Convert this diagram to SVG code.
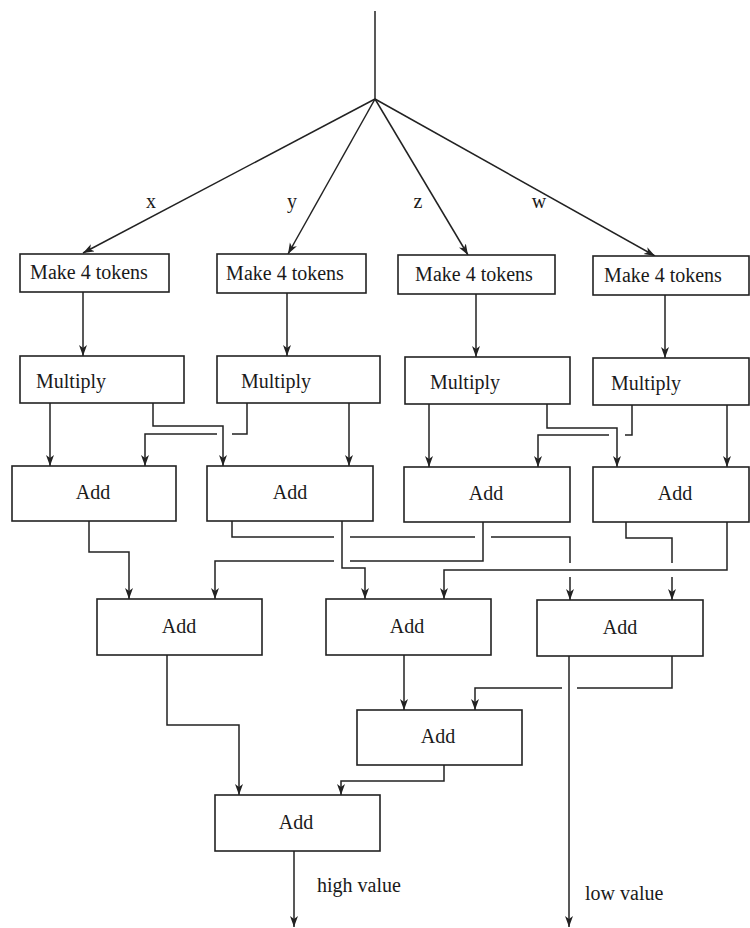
<svg xmlns="http://www.w3.org/2000/svg" width="750" height="928" viewBox="0 0 750 928">
<style>
.box{fill:#fff;stroke:#222;stroke-width:1.6}
.t{font-family:"Liberation Serif","Times New Roman",serif;font-size:20px;fill:#1a1a1a;text-anchor:middle}
.lbl{font-family:"Liberation Serif","Times New Roman",serif;font-size:20px;fill:#1a1a1a}
.c{fill:none;stroke:#222;stroke-width:1.5}
.a{marker-end:url(#arr)}
</style>
<defs>
<marker id="arr" markerUnits="userSpaceOnUse" markerWidth="12" markerHeight="10" refX="11" refY="4" orient="auto">
<path d="M0,0 L11,4 L0,8 L3,4 z" fill="#222"/>
</marker>
</defs>
<rect width="750" height="928" fill="#fff"/>

<g id="connectors">
<line class="c" x1="375" y1="11" x2="375" y2="99"/>
<line class="c a" x1="375" y1="99" x2="83" y2="253"/>
<line class="c a" x1="375" y1="99" x2="288" y2="254"/>
<line class="c a" x1="375" y1="99" x2="468" y2="255"/>
<line class="c a" x1="375" y1="99" x2="655" y2="256"/>

<line class="c a" x1="83" y1="292" x2="83" y2="356"/>
<line class="c a" x1="287" y1="293" x2="287" y2="356"/>
<line class="c a" x1="476" y1="294" x2="476" y2="357"/>
<line class="c a" x1="665" y1="295" x2="665" y2="358"/>

<line class="c a" x1="50" y1="403" x2="50" y2="466"/>
<polyline class="c a" points="153,403 153,426 223,426 223,466"/>
<polyline class="c" points="247,403 247,434 232,434"/>
<polyline class="c a" points="217,434 145,434 145,466"/>
<line class="c a" x1="349" y1="403" x2="349" y2="466"/>
<line class="c a" x1="429" y1="404" x2="429" y2="467"/>
<polyline class="c a" points="547,404 547,428 617,428 617,467"/>
<polyline class="c" points="632,405 632,435 625,435"/>
<polyline class="c a" points="609,435 538,435 538,467"/>
<line class="c a" x1="727" y1="405" x2="727" y2="467"/>

<polyline class="c a" points="89,521 89,552 129,552 129,599"/>
<polyline class="c" points="232,521 232,537 334,537"/>
<line class="c" x1="350" y1="537" x2="475" y2="537"/>
<polyline class="c" points="491,537 570,537 570,563"/>
<line class="c a" x1="570" y1="577" x2="570" y2="600"/>
<polyline class="c a" points="342,521 342,568 365,568 365,599"/>
<polyline class="c" points="483,522 483,561 350,561"/>
<polyline class="c a" points="334,561 215,561 215,599"/>
<polyline class="c" points="626,522 626,538 672,538 672,563"/>
<line class="c a" x1="672" y1="577" x2="672" y2="600"/>
<polyline class="c a" points="727,522 727,570 444,570 444,599"/>

<line class="c a" x1="404" y1="655" x2="404" y2="710"/>
<line class="c a" x1="569" y1="656" x2="569" y2="927"/>
<polyline class="c" points="672,656 672,688 577,688"/>
<polyline class="c a" points="562,688 475,688 475,710"/>
<polyline class="c a" points="167,655 167,725 239,725 239,795"/>
<polyline class="c a" points="444,765 444,781 341,781 341,795"/>
<line class="c a" x1="294" y1="851" x2="294" y2="927"/>
</g>

<g id="labels">
<text class="t" x="151" y="208">x</text>
<text class="t" x="292" y="208">y</text>
<text class="t" x="418" y="208">z</text>
<text class="t" x="539" y="208">w</text>
<text class="lbl" x="317" y="892">high value</text>
<text class="lbl" x="585" y="900">low value</text>
</g>

<g id="make1"><rect class="box" x="20" y="254" width="149" height="38"/><text class="t" x="89" y="279">Make 4 tokens</text></g>
<g id="make2"><rect class="box" x="217" y="254" width="149" height="39"/><text class="t" x="285" y="280">Make 4 tokens</text></g>
<g id="make3"><rect class="box" x="398" y="255" width="157" height="39"/><text class="t" x="474" y="281">Make 4 tokens</text></g>
<g id="make4"><rect class="box" x="593" y="256" width="156" height="39"/><text class="t" x="663" y="282">Make 4 tokens</text></g>

<g id="mul1"><rect class="box" x="20" y="356" width="164" height="47"/><text class="t" x="71" y="388">Multiply</text></g>
<g id="mul2"><rect class="box" x="217" y="356" width="163" height="47"/><text class="t" x="276" y="388">Multiply</text></g>
<g id="mul3"><rect class="box" x="405" y="357" width="165" height="47"/><text class="t" x="465" y="389">Multiply</text></g>
<g id="mul4"><rect class="box" x="593" y="358" width="156" height="47"/><text class="t" x="646" y="390">Multiply</text></g>

<g id="add1"><rect class="box" x="12" y="466" width="164" height="55"/><text class="t" x="93" y="499">Add</text></g>
<g id="add2"><rect class="box" x="207" y="466" width="166" height="55"/><text class="t" x="290" y="499">Add</text></g>
<g id="add3"><rect class="box" x="404" y="467" width="166" height="55"/><text class="t" x="486" y="500">Add</text></g>
<g id="add4"><rect class="box" x="593" y="467" width="156" height="55"/><text class="t" x="675" y="500">Add</text></g>

<g id="add5"><rect class="box" x="97" y="599" width="165" height="56"/><text class="t" x="179" y="633">Add</text></g>
<g id="add6"><rect class="box" x="326" y="599" width="165" height="56"/><text class="t" x="407" y="633">Add</text></g>
<g id="add7"><rect class="box" x="537" y="600" width="166" height="56"/><text class="t" x="620" y="634">Add</text></g>

<g id="add8"><rect class="box" x="357" y="710" width="165" height="55"/><text class="t" x="438" y="743">Add</text></g>
<g id="add9"><rect class="box" x="215" y="795" width="165" height="56"/><text class="t" x="296" y="829">Add</text></g>
</svg>
